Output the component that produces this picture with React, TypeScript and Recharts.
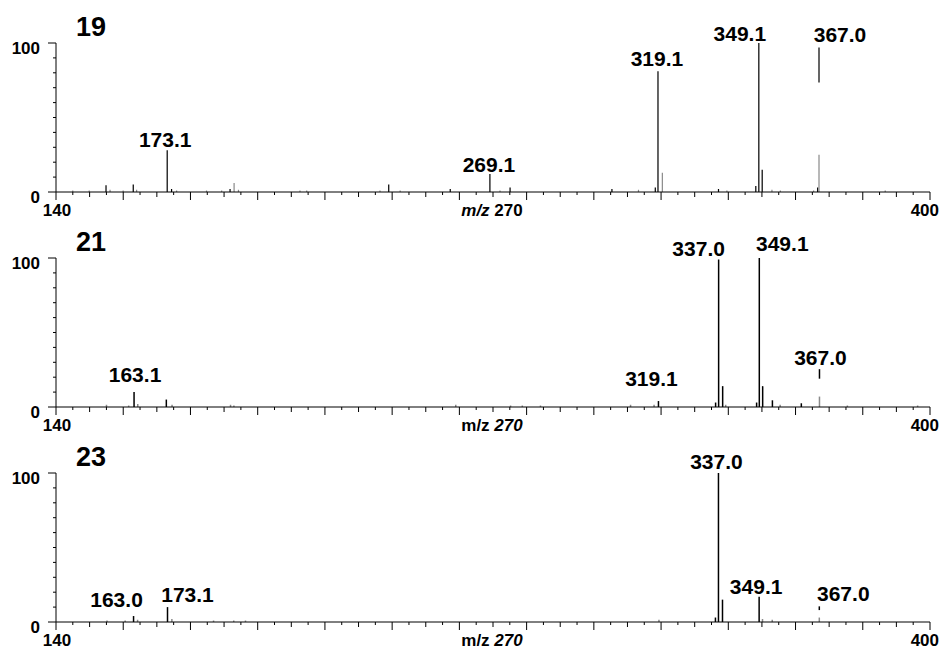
import React from 'react';
import { ComposedChart, Bar, Cell, XAxis, YAxis, LabelList } from 'recharts';

type Peak = [number, number];
type Cap = [number, number, number];

// spectrum 19
const p19Ink: Peak[] = [
  [154.9, 4.5], [163.0, 5], [173.1, 28], [174.4, 2], [191.8, 2], [239.0, 5],
  [257.3, 2], [269.1, 12], [275.1, 3], [305.4, 2], [318.3, 3], [319.1, 81],
  [337.1, 2], [348.2, 4], [349.1, 100], [350.1, 15], [366.6, 3],
];
const p19Faint: Peak[] = [
  [145.0, 1], [149.9, 1], [156.1, 1.5], [160.0, 1], [164.0, 1.5], [175.9, 1],
  [184.8, 1], [189.3, 1], [193.0, 6], [194.3, 1.5], [212.6, 1], [214.6, 1],
  [236.4, 1], [242.4, 1], [272.1, 1], [313.3, 1.5], [320.4, 13], [339.6, 1],
  [353.0, 1.5], [355.5, 1], [365.4, 1], [367.0, 25], [386.7, 1],
];
const p19Caps: Cap[] = [[367.0, 73.5, 97]];
const p19Tags = ['173.1', '269.1', '319.1', '349.1', '367.0'];

// spectrum 21
const p21Ink: Peak[] = [
  [163.1, 10], [172.7, 5], [319.1, 4], [336.1, 3], [337.0, 99], [338.2, 14],
  [348.3, 3], [349.1, 100], [350.1, 14], [353.0, 4.5], [361.6, 2.5],
];
const p21Faint: Peak[] = [
  [154.9, 1.5], [161.5, 1], [164.2, 2], [174.4, 1.5], [191.8, 1.5], [192.8, 1],
  [258.8, 1.5], [275.1, 1], [278.6, 1], [284.0, 1], [310.8, 1.5], [317.8, 1.5],
  [339.1, 1.5], [355.3, 1.5], [367.0, 7], [375.3, 1], [396.2, 1],
];
const p21Caps: Cap[] = [[367.0, 19, 25.4]];
const p21Tags = ['163.1', '319.1', '337.0', '349.1', '367.0'];

// spectrum 23
const p23Ink: Peak[] = [
  [163.0, 4], [173.1, 10], [336.1, 3], [337.0, 100], [338.2, 15], [349.1, 17],
];
const p23Faint: Peak[] = [
  [155.1, 1], [160.5, 1], [164.2, 1.5], [174.4, 2], [186.8, 1], [192.8, 1],
  [196.3, 1], [319.3, 1.5], [350.1, 2], [353.0, 1.5], [367.0, 3],
];
const p23Caps: Cap[] = [[367.0, 8, 10.5]];
const p23Tags = ['163.0', '173.1', '337.0', '349.1', '367.0'];

const xTicks: number[] = [];
for (let v = 140; v <= 400; v += 5) xTicks.push(v);
const yTicks = [0, 10, 20, 30, 40, 50, 60, 70, 80, 90, 100];

const FONT = '"Liberation Sans", Arial, Helvetica, sans-serif';

type Row = { mz: number; range: [number, number]; tone: string; tag?: string };

function buildRows(ink: Peak[], faint: Peak[], caps: Cap[], tags: string[]): Row[] {
  const rows: Row[] = [];
  ink.forEach(([mz, v]) => rows.push({ mz, range: [0, v], tone: 'ink' }));
  faint.forEach(([mz, v]) => rows.push({ mz, range: [0, v], tone: 'faint' }));
  caps.forEach(([mz, lo, hi]) => rows.push({ mz, range: [lo, hi], tone: 'ink' }));
  tags.forEach((t) => {
    const mz = parseFloat(t);
    let best: Row | null = null;
    rows.forEach((r) => {
      if (Math.abs(r.mz - mz) < 0.05 && (!best || r.range[1] > best.range[1])) best = r;
    });
    if (best) (best as Row).tag = t;
  });
  return rows.sort((a, b) => a.mz - b.mz);
}

type Nudge = Record<string, { dx: number; gap: number }>;

const panels = [
  {
    title: '19',
    rows: buildRows(p19Ink, p19Faint, p19Caps, p19Tags),
    italicMz: true,
    nudge: {
      '173.1': { dx: -2, gap: 3 },
      '269.1': { dx: -1, gap: 2 },
      '319.1': { dx: -1, gap: 5 },
      '349.1': { dx: -19, gap: 2 },
      '367.0': { dx: 21, gap: 5 },
    } as Nudge,
  },
  {
    title: '21',
    rows: buildRows(p21Ink, p21Faint, p21Caps, p21Tags),
    italicMz: false,
    nudge: {
      '163.1': { dx: 1, gap: 10 },
      '319.1': { dx: -7, gap: 15 },
      '337.0': { dx: -20, gap: 3 },
      '349.1': { dx: 23, gap: 7 },
      '367.0': { dx: 1, gap: 4 },
    } as Nudge,
  },
  {
    title: '23',
    rows: buildRows(p23Ink, p23Faint, p23Caps, p23Tags),
    italicMz: false,
    nudge: {
      '163.0': { dx: -17, gap: 9 },
      '173.1': { dx: 20, gap: 5 },
      '337.0': { dx: -2, gap: 4 },
      '349.1': { dx: -3, gap: 3 },
      '367.0': { dx: 24, gap: 5 },
    } as Nudge,
  },
];

const YTick = (props: any) => {
  const { x, y, payload } = props;
  const v = payload.value;
  const major = v === 0 || v === 100;
  return (
    <g>
      <line x1={x - (major ? 8 : 3)} x2={x} y1={y} y2={y} stroke="#000" strokeWidth={1} />
      {major && (
        <text x={40} y={y + 11} textAnchor="end" fontFamily={FONT} fontWeight="bold" fontSize={17} fill="#000">
          {v}
        </text>
      )}
    </g>
  );
};

const makeXTick = (italicMz: boolean) => (props: any) => {
  const { x, y, payload } = props;
  const v = payload.value;
  const len = v % 20 === 0 ? 8 : v % 10 === 0 ? 5 : 3;
  let label: React.ReactNode = null;
  if (v === 140) {
    label = (
      <text x={x + 1} y={y + 24} textAnchor="middle" fontFamily={FONT} fontWeight="bold" fontSize={17} fill="#000">
        140
      </text>
    );
  } else if (v === 400) {
    label = (
      <text x={x + 9} y={y + 24} textAnchor="end" fontFamily={FONT} fontWeight="bold" fontSize={17} fill="#000">
        400
      </text>
    );
  } else if (v === 270) {
    label = (
      <text x={x - 1} y={y + 24} textAnchor="middle" fontFamily={FONT} fontWeight="bold" fontSize={17} fill="#000">
        <tspan fontStyle={italicMz ? 'italic' : 'normal'}>m/z</tspan>
        <tspan fontStyle={italicMz ? 'normal' : 'italic'}> 270</tspan>
      </text>
    );
  }
  return (
    <g>
      <line x1={x} x2={x} y1={y} y2={y + len} stroke="#000" strokeWidth={1} />
      {label}
    </g>
  );
};

const makePeakLabel = (nudge: Nudge) => (props: any) => {
  const { x, y, width, value } = props;
  if (!value) return null;
  const n = nudge[value] || { dx: 0, gap: 3 };
  return (
    <text
      x={x + width / 2 + n.dx}
      y={y - n.gap}
      textAnchor="middle"
      fontFamily={FONT}
      fontWeight="bold"
      fontSize={21}
      fill="#000"
    >
      {value}
    </text>
  );
};

const Panel = ({ p, top, height }: { p: (typeof panels)[number]; top: number; height: number }) => (
  <div style={{ position: 'absolute', left: 0, top, width: 943, height }}>
    <div
      style={{
        position: 'absolute',
        left: 76,
        top: 14,
        fontFamily: FONT,
        fontWeight: 'bold',
        fontSize: 27,
        lineHeight: 1,
        color: '#000',
        zIndex: 2,
      }}
    >
      {p.title}
    </div>
    <ComposedChart
      width={943}
      height={height}
      data={p.rows}
      margin={{ top: 43, right: 13, bottom: height - 212, left: 0 }}
    >
      <XAxis
        dataKey="mz"
        type="number"
        domain={[140, 400]}
        allowDataOverflow
        ticks={xTicks}
        interval={0}
        tickSize={0}
        tickMargin={0}
        tickLine={false}
        axisLine={{ stroke: '#000', strokeWidth: 1 }}
        tick={makeXTick(p.italicMz)}
        height={20}
      />
      <YAxis
        type="number"
        domain={[0, 100]}
        ticks={yTicks}
        interval={0}
        tickSize={0}
        tickMargin={0}
        tickLine={false}
        axisLine={{ stroke: '#000', strokeWidth: 1 }}
        tick={YTick}
        width={56}
      />
      <Bar dataKey="range" barSize={1.5} isAnimationActive={false}>
        {p.rows.map((r, i) => (
          <Cell key={i} fill={r.tone === 'ink' ? '#000' : '#8a8a8a'} />
        ))}
        <LabelList dataKey="tag" content={makePeakLabel(p.nudge)} />
      </Bar>
    </ComposedChart>
  </div>
);

export default function App() {
  return (
    <div style={{ position: 'absolute', left: 0, top: 0, width: 943, height: 650, background: '#fff', overflow: 'hidden' }}>
      {panels.map((p, i) => (
        <Panel key={p.title} p={p} top={i * 215} height={i === 2 ? 220 : 230} />
      ))}
    </div>
  );
}
